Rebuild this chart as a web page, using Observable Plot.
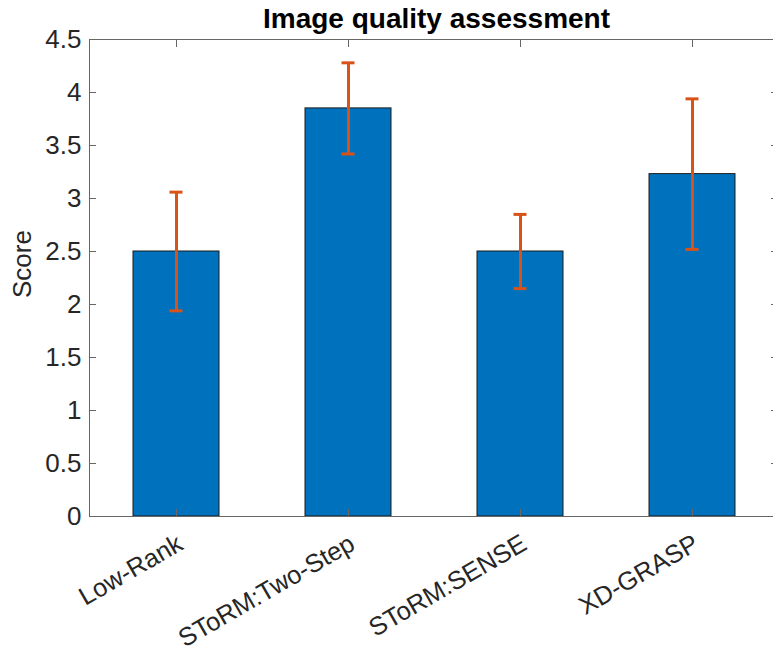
<!DOCTYPE html>
<html><head><meta charset="utf-8">
<script src="https://cdn.jsdelivr.net/npm/d3@7"></script>
<script src="https://cdn.jsdelivr.net/npm/@observablehq/plot@0.6"></script>
<style>body{margin:0;background:#fff}</style>
</head><body><div id="chart"></div>
<script>
const categories = ["Low-Rank", "SToRM:Two-Step", "SToRM:SENSE", "XD-GRASP"];
const scores = [2.5, 3.85, 2.5, 3.23];
const errors = [0.56, 0.43, 0.35, 0.71];
const yTicks = [0, 0.5, 1, 1.5, 2, 2.5, 3, 3.5, 4, 4.5];
const titleText = "Image quality assessment";
const yLabel = "Score";

const data = categories.map((c, i) => ({
  category: c, score: scores[i], lo: scores[i] - errors[i], hi: scores[i] + errors[i]
}));

const axisColor = "#666";
const chart = Plot.plot({
  width: 773, height: 654,
  marginTop: 39, marginBottom: 138, marginLeft: 89, marginRight: 0,
  style: {fontFamily: "'Liberation Sans', Arial, sans-serif", fontSize: "26px", color: "#262626", background: "#fff"},
  x: {domain: categories, range: [89, 779], paddingInner: 0.5, paddingOuter: 0.25, label: null},
  y: {domain: [0, 4.5], label: null},
  marks: [
    Plot.barY(data, {x: "category", y: "score", fill: "#0072BD", stroke: "#1a1a1a", strokeWidth: 1}),
    Plot.ruleX(data, {x: "category", y1: "lo", y2: "hi", stroke: "#D95319", strokeWidth: 3}),
    Plot.tickY(data, {x: "category", y: "lo", stroke: "#D95319", strokeWidth: 3, insetLeft: 36.5, insetRight: 36.5}),
    Plot.tickY(data, {x: "category", y: "hi", stroke: "#D95319", strokeWidth: 3, insetLeft: 36.5, insetRight: 36.5}),
    Plot.frame({anchor: "left", stroke: axisColor}),
    Plot.frame({anchor: "top", stroke: axisColor}),
    Plot.frame({anchor: "bottom", stroke: axisColor}),
    Plot.axisY({ticks: yTicks, tickSize: -7, tickPadding: 15, stroke: axisColor, tickFormat: d => String(d), label: null}),
    Plot.axisY({anchor: "right", ticks: yTicks, tickSize: -3, stroke: axisColor, tickFormat: () => "", label: null}),
    Plot.axisX({anchor: "top", tickSize: -7, stroke: axisColor, tickFormat: () => "", label: null}),
    Plot.axisX({anchor: "bottom", tickSize: -7, stroke: axisColor, tickFormat: () => "", label: null}),
    Plot.axisX({anchor: "bottom", tickSize: 0, tickPadding: 25, dx: 4, tickRotate: -30, fontSize: 25.5, label: null}),
    Plot.text([titleText], {frameAnchor: "top", dx: 5, dy: -31, fontWeight: "bold", fontSize: 28, fill: "#000"}),
    Plot.text([yLabel], {frameAnchor: "left", dx: -67, dy: 20, rotate: -90, fontSize: 26, fill: "#262626"})
  ]
});
document.getElementById("chart").appendChild(chart);
</script>
</body></html>
